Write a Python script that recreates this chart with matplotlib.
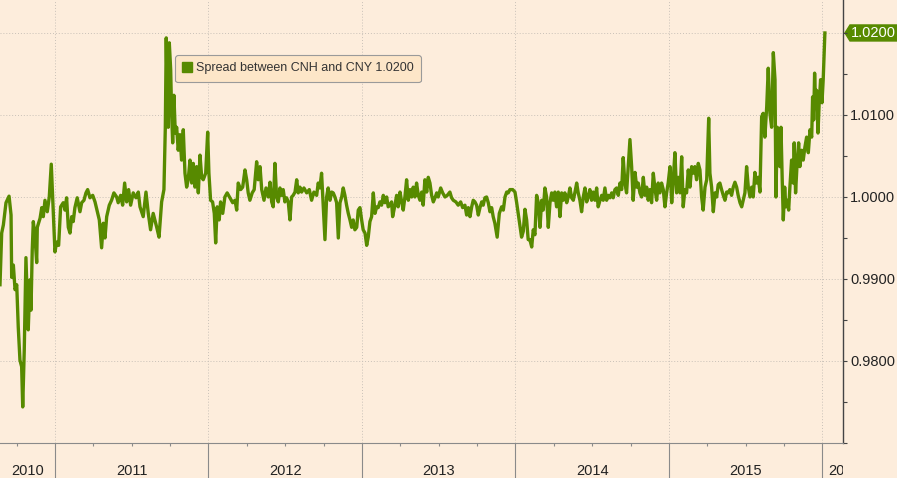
import numpy as np
import matplotlib.pyplot as plt
from matplotlib.lines import Line2D
from matplotlib.patches import Polygon
from matplotlib.transforms import Bbox, TransformedBbox, blended_transform_factory
from matplotlib.ticker import FixedLocator, FuncFormatter

plt.rcParams['font.family'] = ['Liberation Sans', 'DejaVu Sans']

# fechas en anos decimales y spread CNH/CNY
t_2010 = [2010.642, 2010.653, 2010.664, 2010.681, 2010.701, 2010.714, 2010.718, 2010.729, 2010.740, 2010.751,
          2010.761, 2010.772, 2010.783, 2010.790, 2010.800, 2010.811, 2010.826, 2010.837, 2010.844, 2010.852,
          2010.859, 2010.870, 2010.881, 2010.885, 2010.903, 2010.914, 2010.924, 2010.935, 2010.950, 2010.963,
          2010.976, 2010.985, 2010.994]
s_2010 = [0.9893, 0.9956, 0.9966, 0.9993, 1.0001, 0.9978, 0.9902, 0.9917, 0.9887, 0.9893,
          0.9841, 0.9801, 0.9793, 0.9744, 0.9813, 0.9926, 0.9838, 0.9899, 0.9862, 0.9935,
          0.9970, 0.9951, 0.9920, 0.9963, 0.9974, 0.9987, 0.9976, 0.9996, 0.9982, 1.0000,
          1.0040, 1.0000, 0.9960]

t_2011 = [2011.000, 2011.011, 2011.024, 2011.037, 2011.054, 2011.065, 2011.076, 2011.087, 2011.098, 2011.109,
          2011.119, 2011.130, 2011.145, 2011.163, 2011.174, 2011.189, 2011.202, 2011.213, 2011.228, 2011.246,
          2011.261, 2011.276, 2011.289, 2011.304, 2011.315, 2011.326, 2011.337, 2011.354, 2011.369, 2011.384,
          2011.402, 2011.412, 2011.428, 2011.441, 2011.454, 2011.467, 2011.480, 2011.493, 2011.510, 2011.528,
          2011.543, 2011.554, 2011.575, 2011.593, 2011.608, 2011.623, 2011.640, 2011.663, 2011.678, 2011.695,
          2011.710, 2011.719, 2011.725, 2011.732, 2011.738, 2011.745, 2011.754, 2011.760, 2011.767, 2011.775,
          2011.784, 2011.793, 2011.803, 2011.814, 2011.825, 2011.836, 2011.847, 2011.858, 2011.868, 2011.880,
          2011.891, 2011.901, 2011.912, 2011.923, 2011.934, 2011.945, 2011.956, 2011.966, 2011.982, 2011.995]
s_2011 = [0.9933, 0.9945, 0.9941, 0.9988, 0.9993, 0.9984, 0.9999, 0.9963, 0.9956, 0.9976,
          0.9970, 0.9987, 0.9999, 0.9982, 0.9993, 0.9996, 1.0005, 1.0009, 0.9999, 1.0002,
          0.9994, 0.9982, 0.9972, 0.9938, 0.9968, 0.9950, 0.9976, 0.9990, 0.9996, 1.0005,
          1.0000, 0.9993, 1.0002, 0.9990, 1.0017, 0.9994, 1.0009, 0.9990, 1.0005, 0.9999,
          1.0006, 0.9988, 0.9976, 1.0006, 0.9980, 0.9960, 0.9980, 0.9963, 0.9951, 0.9994,
          1.0009, 1.0085, 1.0194, 1.0115, 1.0085, 1.0188, 1.0155, 1.0102, 1.0066, 1.0124,
          1.0078, 1.0085, 1.0057, 1.0076, 1.0045, 1.0082, 1.0029, 1.0012, 1.0021, 1.0045,
          1.0017, 1.0041, 1.0012, 1.0037, 1.0005, 1.0051, 1.0024, 1.0021, 1.0029, 1.0079]

t_2012 = [2012.003, 2012.014, 2012.027, 2012.038, 2012.047, 2012.057, 2012.070, 2012.079, 2012.093, 2012.107,
          2012.122, 2012.140, 2012.158, 2012.173, 2012.184, 2012.194, 2012.210, 2012.223, 2012.238, 2012.249,
          2012.259, 2012.270, 2012.285, 2012.298, 2012.314, 2012.324, 2012.336, 2012.347, 2012.362, 2012.375,
          2012.390, 2012.401, 2012.412, 2012.422, 2012.433, 2012.444, 2012.455, 2012.466, 2012.477, 2012.487,
          2012.498, 2012.509, 2012.520, 2012.531, 2012.542, 2012.552, 2012.564, 2012.575, 2012.585, 2012.596,
          2012.607, 2012.622, 2012.640, 2012.657, 2012.672, 2012.687, 2012.705, 2012.715, 2012.726, 2012.737,
          2012.748, 2012.759, 2012.770, 2012.780, 2012.792, 2012.803, 2012.813, 2012.824, 2012.835, 2012.846,
          2012.857, 2012.868, 2012.878, 2012.889, 2012.900, 2012.911, 2012.922, 2012.933, 2012.943, 2012.954,
          2012.966, 2012.976, 2012.987, 2012.998]
s_2012 = [1.0029, 0.9996, 0.9994, 0.9980, 0.9944, 0.9988, 0.9972, 0.9994, 0.9980, 1.0000,
          1.0005, 0.9999, 0.9993, 0.9996, 0.9984, 1.0017, 1.0009, 1.0012, 1.0033, 1.0021,
          1.0005, 0.9996, 1.0005, 1.0009, 1.0043, 1.0021, 1.0037, 1.0009, 0.9996, 1.0011,
          1.0000, 1.0018, 0.9994, 0.9988, 1.0041, 1.0000, 0.9994, 1.0011, 1.0002, 1.0009,
          0.9994, 0.9999, 0.9994, 0.9972, 1.0000, 1.0002, 1.0006, 1.0021, 1.0005, 1.0012,
          1.0006, 1.0011, 1.0005, 1.0009, 0.9996, 1.0006, 1.0002, 1.0017, 1.0011, 1.0029,
          0.9988, 0.9948, 1.0000, 1.0011, 0.9996, 1.0006, 1.0005, 1.0000, 0.9993, 0.9950,
          0.9993, 1.0000, 1.0011, 1.0002, 0.9990, 0.9980, 0.9972, 0.9963, 0.9972, 0.9960,
          0.9963, 0.9984, 0.9987, 0.9972]

t_2013 = [2013.008, 2013.020, 2013.031, 2013.041, 2013.052, 2013.063, 2013.074, 2013.085, 2013.096, 2013.106,
          2013.117, 2013.128, 2013.139, 2013.150, 2013.161, 2013.171, 2013.182, 2013.193, 2013.200, 2013.215,
          2013.226, 2013.236, 2013.248, 2013.259, 2013.269, 2013.280, 2013.291, 2013.302, 2013.313, 2013.324,
          2013.334, 2013.345, 2013.356, 2013.367, 2013.378, 2013.389, 2013.399, 2013.410, 2013.422, 2013.432,
          2013.443, 2013.454, 2013.465, 2013.476, 2013.487, 2013.497, 2013.513, 2013.526, 2013.541, 2013.556,
          2013.573, 2013.584, 2013.595, 2013.612, 2013.627, 2013.643, 2013.656, 2013.671, 2013.682, 2013.693,
          2013.704, 2013.715, 2013.725, 2013.736, 2013.747, 2013.758, 2013.769, 2013.780, 2013.790, 2013.801,
          2013.812, 2013.823, 2013.834, 2013.845, 2013.855, 2013.866, 2013.881, 2013.895, 2013.910, 2013.921,
          2013.932, 2013.943, 2013.953, 2013.964, 2013.982, 2013.997]
s_2013 = [0.9960, 0.9956, 0.9941, 0.9951, 0.9970, 0.9976, 1.0005, 0.9980, 0.9988, 0.9987,
          0.9994, 0.9990, 1.0002, 0.9993, 1.0000, 0.9988, 0.9990, 0.9994, 0.9976, 0.9990,
          1.0002, 0.9988, 1.0006, 0.9994, 0.9984, 1.0000, 1.0021, 0.9996, 1.0009, 1.0000,
          1.0012, 1.0000, 1.0017, 1.0002, 0.9996, 1.0006, 0.9990, 1.0021, 1.0006, 1.0024,
          1.0017, 1.0002, 0.9994, 0.9999, 1.0005, 1.0000, 1.0011, 1.0005, 1.0000, 1.0002,
          1.0006, 0.9999, 0.9996, 0.9994, 0.9990, 0.9994, 0.9987, 0.9990, 0.9978, 0.9987,
          0.9976, 0.9988, 0.9996, 0.9994, 0.9990, 0.9978, 0.9987, 0.9994, 0.9990, 0.9999,
          1.0000, 0.9993, 0.9982, 0.9987, 0.9976, 0.9968, 0.9951, 0.9980, 0.9988, 0.9984,
          1.0000, 1.0006, 1.0005, 1.0009, 1.0009, 1.0006]

t_2014 = [2014.008, 2014.018, 2014.029, 2014.040, 2014.051, 2014.062, 2014.073, 2014.083, 2014.094, 2014.106,
          2014.116, 2014.127, 2014.138, 2014.149, 2014.160, 2014.171, 2014.181, 2014.192, 2014.203, 2014.214,
          2014.225, 2014.236, 2014.246, 2014.257, 2014.268, 2014.279, 2014.290, 2014.301, 2014.311, 2014.322,
          2014.334, 2014.344, 2014.355, 2014.366, 2014.377, 2014.388, 2014.399, 2014.409, 2014.420, 2014.431,
          2014.442, 2014.453, 2014.464, 2014.474, 2014.485, 2014.496, 2014.507, 2014.518, 2014.529, 2014.539,
          2014.551, 2014.562, 2014.572, 2014.583, 2014.594, 2014.605, 2014.616, 2014.627, 2014.637, 2014.648,
          2014.659, 2014.670, 2014.681, 2014.692, 2014.702, 2014.713, 2014.724, 2014.735, 2014.746, 2014.757,
          2014.767, 2014.779, 2014.790, 2014.800, 2014.811, 2014.822, 2014.833, 2014.844, 2014.855, 2014.865,
          2014.876, 2014.887, 2014.898, 2014.909, 2014.920, 2014.930, 2014.941, 2014.952, 2014.963, 2014.974,
          2014.985, 2014.995]
s_2014 = [0.9993, 0.9980, 0.9965, 0.9951, 0.9958, 0.9985, 0.9972, 0.9948, 0.9948, 0.9939,
          0.9960, 0.9954, 1.0002, 0.9993, 0.9963, 0.9996, 0.9984, 1.0011, 1.0000, 0.9963,
          0.9993, 1.0005, 0.9996, 1.0006, 0.9988, 1.0006, 0.9976, 1.0005, 0.9996, 1.0005,
          0.9993, 1.0000, 1.0011, 0.9999, 0.9996, 1.0006, 1.0017, 1.0005, 0.9996, 0.9982,
          1.0000, 1.0011, 0.9994, 1.0000, 1.0009, 0.9996, 1.0006, 0.9996, 1.0011, 0.9988,
          0.9996, 1.0002, 0.9996, 1.0011, 0.9996, 1.0002, 0.9999, 1.0005, 0.9999, 1.0009,
          1.0011, 1.0002, 1.0017, 1.0009, 1.0048, 1.0017, 1.0005, 1.0037, 1.0070, 1.0037,
          0.9996, 1.0030, 1.0012, 1.0017, 1.0005, 1.0000, 1.0024, 1.0002, 1.0012, 0.9996,
          1.0009, 0.9993, 1.0029, 1.0010, 0.9996, 1.0017, 1.0005, 1.0017, 1.0009, 0.9988,
          1.0005, 1.0017]

t_2015 = [2015.007, 2015.018, 2015.028, 2015.039, 2015.050, 2015.061, 2015.072, 2015.083, 2015.093, 2015.104,
          2015.115, 2015.126, 2015.137, 2015.148, 2015.158, 2015.169, 2015.180, 2015.191, 2015.202, 2015.213,
          2015.223, 2015.235, 2015.246, 2015.259, 2015.267, 2015.278, 2015.289, 2015.300, 2015.311, 2015.321,
          2015.332, 2015.343, 2015.354, 2015.365, 2015.376, 2015.386, 2015.397, 2015.408, 2015.419, 2015.430,
          2015.441, 2015.451, 2015.463, 2015.474, 2015.484, 2015.495, 2015.506, 2015.517, 2015.528, 2015.539,
          2015.549, 2015.560, 2015.571, 2015.582, 2015.593, 2015.604, 2015.614, 2015.625, 2015.637, 2015.647,
          2015.658, 2015.669, 2015.680, 2015.691, 2015.697, 2015.706, 2015.715, 2015.723, 2015.730, 2015.738,
          2015.745, 2015.754, 2015.762, 2015.771, 2015.780, 2015.788, 2015.799, 2015.810, 2015.816, 2015.825,
          2015.834, 2015.845, 2015.853, 2015.865, 2015.875, 2015.886, 2015.897, 2015.908, 2015.919, 2015.930,
          2015.936, 2015.943, 2015.949, 2015.956, 2015.962, 2015.971, 2015.979, 2015.988, 2015.997, 2016.005,
          2016.016]
s_2015 = [1.0037, 0.9993, 1.0021, 1.0054, 1.0005, 1.0024, 1.0005, 1.0049, 0.9988, 1.0009,
          1.0005, 1.0033, 1.0012, 1.0037, 1.0029, 1.0037, 1.0021, 1.0041, 1.0033, 1.0000,
          0.9984, 1.0012, 1.0021, 1.0096, 1.0029, 1.0012, 0.9982, 1.0005, 1.0000, 1.0015,
          1.0017, 1.0009, 1.0002, 0.9996, 1.0006, 1.0005, 1.0009, 1.0002, 1.0012, 1.0018,
          1.0012, 1.0002, 0.9993, 0.9988, 0.9996, 1.0005, 1.0037, 1.0012, 1.0000, 1.0012,
          1.0000, 1.0030, 1.0017, 1.0024, 1.0006, 1.0098, 1.0102, 1.0073, 1.0110, 1.0157,
          1.0102, 1.0085, 1.0176, 1.0143, 1.0000, 1.0085, 1.0054, 1.0037, 1.0085, 1.0021,
          0.9972, 1.0012, 0.9988, 0.9996, 0.9984, 1.0012, 1.0045, 1.0017, 1.0066, 1.0005,
          1.0037, 1.0066, 1.0037, 1.0057, 1.0045, 1.0061, 1.0073, 1.0054, 1.0082, 1.0073,
          1.0122, 1.0094, 1.0151, 1.0110, 1.0130, 1.0078, 1.0115, 1.0143, 1.0115, 1.0143,
          1.0200]

serie = 'Spread between CNH and CNY'
anios = [2010, 2011, 2012, 2013, 2014, 2015, 2016]
y_ticks = [0.97, 0.98, 0.99, 1.00, 1.01, 1.02]

t = np.array(t_2010 + t_2011 + t_2012 + t_2013 + t_2014 + t_2015)
s = np.array(s_2010 + s_2011 + s_2012 + s_2013 + s_2014 + s_2015)

fondo = '#fdeddc'
verde = '#578a00'
xlo, xhi = 2010.642, 2016.134
ylo, yhi = 0.97, 1.02402

fig = plt.figure(figsize=(8.97, 4.78), dpi=100, facecolor=fondo)
ax = fig.add_axes([0, 35 / 478, 843 / 897, 443 / 478])
ax.set_facecolor(fondo)

ax.plot(t, s, color=verde, lw=2.4)
ax.set_xlim(xlo, xhi)
ax.set_ylim(ylo, yhi)

# eje y a la derecha
ax.yaxis.tick_right()
ax.set_yticks(y_ticks)
ax.yaxis.set_minor_locator(FixedLocator([v + 0.005 for v in y_ticks[:-1]]))
ax.yaxis.set_major_formatter(FuncFormatter(lambda v, p: '' if v < 0.975 or v > 1.015 else f'{v:.4f}'))
ax.tick_params(axis='y', which='both', direction='out', length=3, width=0.8,
               color='#444444', labelcolor='#222222', labelsize=10.5, pad=2)

# eje x: separadores de anio y trimestres
ax.set_xticks(anios[1:])
ax.set_xticklabels([])
trim = [a + q for a in anios for q in (0.25, 0.5, 0.75) if xlo < a + q < xhi]
ax.xaxis.set_minor_locator(FixedLocator(trim))
ax.tick_params(axis='x', which='major', length=25.5, width=0.8, color='#8a8a8a')
ax.tick_params(axis='x', which='minor', length=2, width=0.8, color='#8a8a8a')

ax.grid(True, which='major', linestyle=(0, (1, 2)), color='#c9c1b8', lw=0.7)

for lado in ['top', 'left']:
    ax.spines[lado].set_visible(False)
ax.spines['bottom'].set_color('#8a8a8a')
ax.spines['bottom'].set_linewidth(0.8)
ax.spines['right'].set_color('#444444')
ax.spines['right'].set_linewidth(1.0)

# etiquetas de anio, recortadas al borde del eje
recorte = TransformedBbox(Bbox([[0, 0], [843 / 897, 1]]), fig.transFigure)
trans = blended_transform_factory(ax.transData, ax.transAxes)
for a in anios:
    lo, hi = max(a, xlo), min(a + 1, xhi)
    if hi - lo > 0.3:
        x, ha = (lo + hi) / 2, 'center'
    else:
        x, ha = lo + 0.035, 'left'
    txt = ax.text(x, -28 / 443, str(a), transform=trans, ha=ha, va='center',
                  fontsize=10.5, color='#222222')
    txt.set_clip_box(recorte)
    txt.set_clip_on(True)

# leyenda
h = Line2D([], [], marker='s', ls='None', color=verde, markersize=6.5)
leg = ax.legend([h], [f'{serie} {s[-1]:.4f}'], loc='upper left',
                bbox_to_anchor=(175 / 843, 1 - 55 / 443), borderaxespad=0,
                fontsize=9, handlelength=0.7, handletextpad=0.35, borderpad=0.6,
                fancybox=True, framealpha=1, facecolor='#fde6c8', edgecolor='#9a9a9a')
leg.get_frame().set_linewidth(0.8)
for tx in leg.get_texts():
    tx.set_color('#333333')

# etiqueta del ultimo valor
yc = (s[-1] - ylo) / (yhi - ylo)
px, py = 1 / 843, 1 / 443
pts = [(1 + 2 * px, yc), (1 + 7 * px, yc + 8 * py), (1 + 60 * px, yc + 8 * py),
       (1 + 60 * px, yc - 8 * py), (1 + 7 * px, yc - 8 * py)]
ax.add_patch(Polygon(pts, closed=True, transform=ax.transAxes, clip_on=False,
                     facecolor=verde, edgecolor=verde))
ax.text(1 + 8 * px, yc, f'{s[-1]:.4f}', transform=ax.transAxes, color='white',
        fontsize=10.5, va='center', ha='left', clip_on=False)

fig.savefig('out.png', dpi=100, facecolor=fondo)
